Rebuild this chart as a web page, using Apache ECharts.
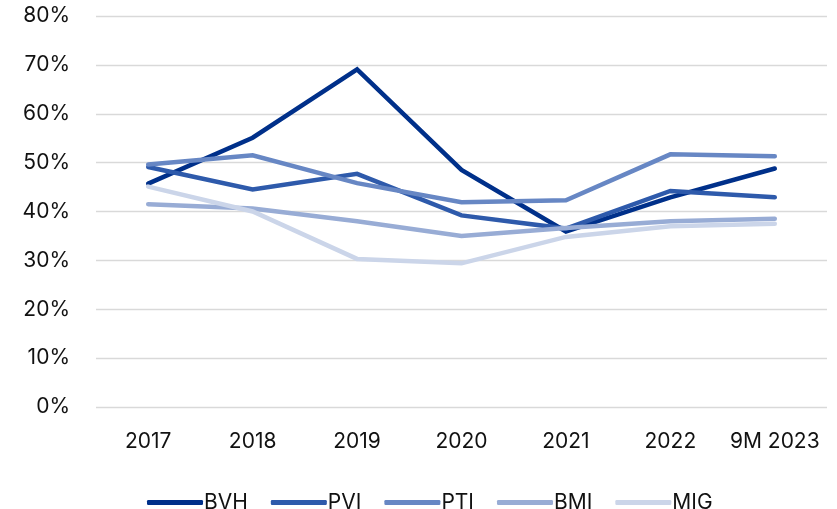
<!DOCTYPE html>
<html>
<head>
<meta charset="utf-8">
<script src="https://cdn.jsdelivr.net/npm/echarts@6/dist/echarts.min.js"></script>
<style>
  html, body { margin: 0; padding: 0; background: #ffffff; }
  #chart { width: 837px; height: 509px; }
</style>
</head>
<body>
<div id="chart"></div>
<script>
// Periods on the horizontal axis
const categories = ['2017', '2018', '2019', '2020', '2021', '2022', '9M 2023'];

// Ratios per insurer, in percent
const bvh = [45.7, 55.1, 69.1, 48.5, 35.9, 42.9, 48.8];
const pvi = [49.1, 44.5, 47.7, 39.2, 36.5, 44.2, 42.9];
const pti = [49.6, 51.5, 45.8, 41.9, 42.3, 51.7, 51.3];
const bmi = [41.5, 40.6, 38.0, 35.0, 36.6, 38.0, 38.5];
const mig = [45.1, 40.0, 30.3, 29.4, 34.8, 37.0, 37.5];

const seriesNames = ['BVH', 'PVI', 'PTI', 'BMI', 'MIG'];
const seriesData = [bvh, pvi, pti, bmi, mig];
const seriesColors = ['#00308A', '#2E5AAB', '#6787C4', '#98ACD5', '#CBD5E9'];

// Value axis ticks
const yMin = 0, yMax = 80, yStep = 10;

const FONT = 'Inter';

const chart = echarts.init(document.getElementById('chart'), null, { renderer: 'canvas' });

chart.setOption({
  animation: false,
  backgroundColor: '#ffffff',
  textStyle: { fontFamily: FONT },
  grid: { left: 96, right: 10, top: 16, bottom: 102, containLabel: false },
  legend: {
    left: 142,
    top: 487,
    itemWidth: 56,
    itemHeight: 5,
    itemGap: 23,
    icon: 'roundRect',
    textStyle: { fontFamily: FONT, fontSize: 21, color: '#111111', padding: [0, 0, 0, -4] },
    data: seriesNames
  },
  xAxis: {
    type: 'category',
    data: categories,
    boundaryGap: true,
    axisLine: { show: false },
    axisTick: { show: false },
    axisLabel: { interval: 0, fontFamily: FONT, fontSize: 21, color: '#111111', margin: 24 }
  },
  yAxis: {
    type: 'value',
    min: yMin,
    max: yMax,
    interval: yStep,
    axisLine: { show: false },
    axisTick: { show: false },
    splitLine: { lineStyle: { color: '#d9d9d9', width: 1.3 } },
    axisLabel: {
      fontFamily: FONT,
      fontSize: 21,
      color: '#111111',
      margin: 26,
      formatter: v => v + '%'
    }
  },
  series: seriesNames.map((name, i) => ({
    name: name,
    type: 'line',
    data: seriesData[i],
    symbol: 'none',
    color: seriesColors[i],
    lineStyle: { width: 4.5, color: seriesColors[i], cap: 'round', join: 'miter' },
    itemStyle: { color: seriesColors[i] }
  }))
});
</script>
</body>
</html>
